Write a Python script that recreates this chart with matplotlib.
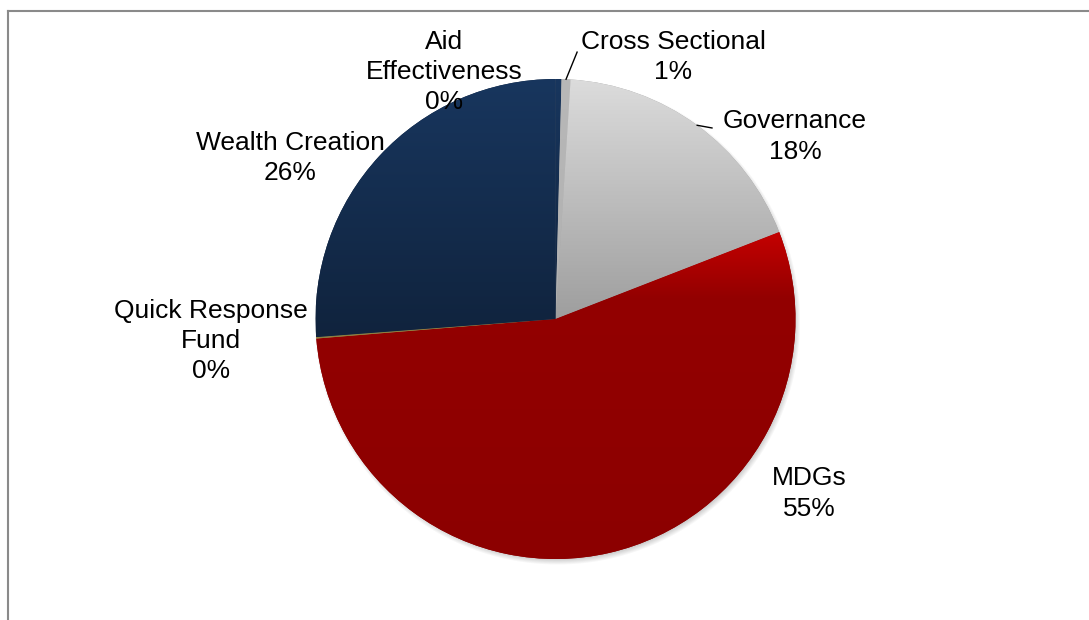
import numpy as np
import matplotlib.pyplot as plt
from matplotlib.colors import LinearSegmentedColormap

# Share of funding by programme area (%)
categories = ["Aid\nEffectiveness", "Cross Sectional", "Governance", "MDGs",
              "Quick Response\nFund", "Wealth Creation"]
shares = [0.4, 0.6, 18.1, 54.6, 0.1, 26.2]

# slice fills as gradient stops, top of slice -> bottom of slice
fills = [
    [(0, "#18365e"), (1, "#10233d")],
    [(0, "#b8b8b8"), (1, "#b0b0b0")],
    [(0, "#dcdcdc"), (1, "#9e9e9e")],
    [(0, "#c40000"), (0.2, "#930000"), (1, "#8c0000")],
    [(0, "#8d8040"), (1, "#8d8040")],
    [(0, "#18365e"), (1, "#10233d")],
]

# label centres, in pie radii from the pie centre
label_pos = [(-0.465, 1.029), (0.490, 1.092), (0.998, 0.760),
             (1.056, -0.727), (-1.435, -0.092), (-1.106, 0.671)]
# leader line ends for the labels that get one
leader_end = {1: (0.090, 1.112), 2: (0.652, 0.796)}

W, H = 1089, 620
cx, cy, R = 555.5, 301, 240

fig = plt.figure(figsize=(W / 100, H / 100), dpi=100)
ax = fig.add_axes([0, 0, 1, 1])

# soft drop shadow under the pie
yy, xx = np.mgrid[0:H, 0:W]
d = np.hypot(xx + 0.5 - (cx + 2), yy + 0.5 - (cy - 3))
shadow = np.zeros((H, W, 4))
shadow[..., :3] = 0.35
shadow[..., 3] = np.clip((R + 3 - d) / 7, 0, 1) * 0.35
ax.imshow(shadow, extent=(0, W, 0, H), origin="lower", zorder=0.5,
          interpolation="bilinear")

wedges, _ = ax.pie(shares, startangle=90, counterclock=False,
                   center=(cx, cy), radius=R,
                   colors=[f[-1][1] for f in fills],
                   wedgeprops=dict(linewidth=0))

# gradient fill clipped to each slice
for w, stops in zip(wedges, fills):
    x0, y0, x1, y1 = w.get_path().get_extents().extents
    cmap = LinearSegmentedColormap.from_list("g", stops)
    img = cmap(np.linspace(0, 1, 256))[:, None, :]
    im = ax.imshow(img, extent=(x0, x1, y0, y1), origin="upper",
                   aspect="auto", interpolation="bilinear", zorder=1.5)
    im.set_clip_path(w)

for i, (w, (lx, ly)) in enumerate(zip(wedges, label_pos)):
    txt = f"{categories[i]}\n{shares[i]:.0f}%"
    ax.text(cx + lx * R, cy + ly * R, txt, ha="center", va="center",
            multialignment="center", fontsize=19, family="Liberation Sans",
            linespacing=1.33, color="black", zorder=3)
    if i in leader_end:
        mid = np.deg2rad((w.theta1 + w.theta2) / 2)
        ex, ey = leader_end[i]
        ax.plot([cx + R * np.cos(mid), cx + ex * R],
                [cy + R * np.sin(mid), cy + ey * R],
                color="black", lw=1.0, zorder=3)

# chart frame
ax.plot([7.5, 7.5], [0, 609], color="#8a8a8a", lw=1.5, zorder=3)
ax.plot([7.5, W], [609, 609], color="#8a8a8a", lw=1.5, zorder=3)

ax.set_xlim(0, W)
ax.set_ylim(0, H)
ax.set_aspect("equal")
ax.axis("off")

fig.savefig("out.png", dpi=100)
